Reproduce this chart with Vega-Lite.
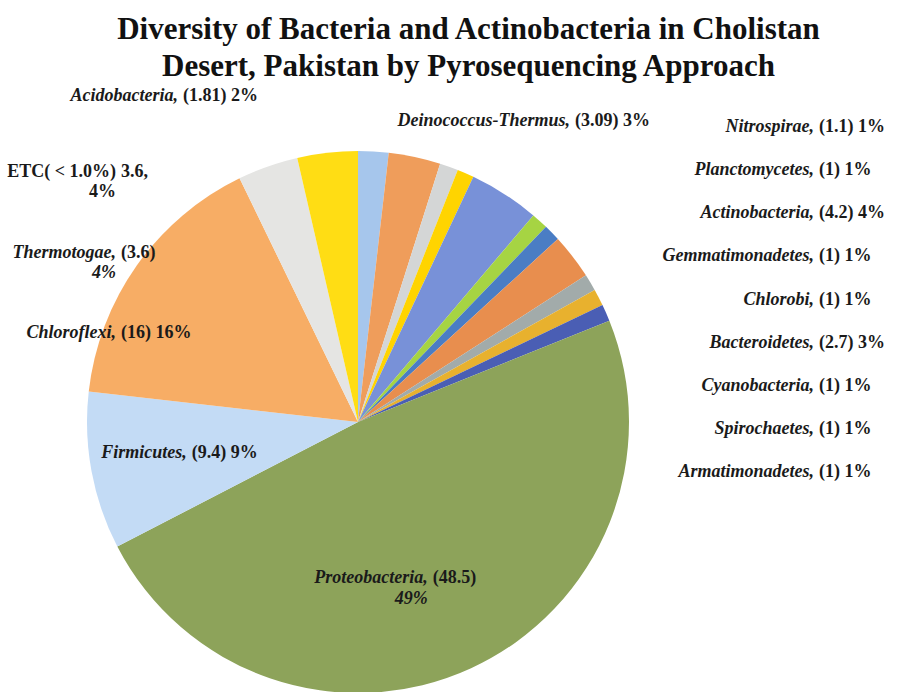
{
  "$schema": "https://vega.github.io/schema/vega-lite/v6.json",
  "width": 913,
  "height": 612,
  "autosize": {"type": "none"},
  "padding": {"left": 0, "top": 80, "right": 0, "bottom": 0},
  "background": "white",
  "config": {"view": {"stroke": null}},
  "title": {
    "text": ["Diversity of Bacteria and Actinobacteria in Cholistan", "Desert, Pakistan by Pyrosequencing Approach"],
    "font": "Liberation Serif",
    "fontSize": 31,
    "fontWeight": "bold",
    "color": "#111111",
    "anchor": "middle",
    "frame": "group",
    "lineHeight": 37,
    "dx": 12,
    "offset": -3
  },
  "data": {
    "values": [
      {"k": 1, "name": "Acidobacteria", "v": 1.81, "a": "Acidobacteria,", "b": "(1.81) 2%"},
      {"k": 2, "name": "Deinococcus-Thermus", "v": 3.09, "a": "Deinococcus-Thermus,", "b": "(3.09) 3%"},
      {"k": 3, "name": "Nitrospirae", "v": 1.1, "a": "Nitrospirae,", "b": "(1.1) 1%"},
      {"k": 4, "name": "Planctomycetes", "v": 1, "a": "Planctomycetes,", "b": "(1) 1%"},
      {"k": 5, "name": "Actinobacteria", "v": 4.2, "a": "Actinobacteria,", "b": "(4.2) 4%"},
      {"k": 6, "name": "Gemmatimonadetes", "v": 1, "a": "Gemmatimonadetes,", "b": "(1) 1%"},
      {"k": 7, "name": "Chlorobi", "v": 1, "a": "Chlorobi,", "b": "(1) 1%"},
      {"k": 8, "name": "Bacteroidetes", "v": 2.7, "a": "Bacteroidetes,", "b": "(2.7) 3%"},
      {"k": 9, "name": "Cyanobacteria", "v": 1, "a": "Cyanobacteria,", "b": "(1) 1%"},
      {"k": 10, "name": "Spirochaetes", "v": 1, "a": "Spirochaetes,", "b": "(1) 1%"},
      {"k": 11, "name": "Armatimonadetes", "v": 1, "a": "Armatimonadetes,", "b": "(1) 1%"},
      {"k": 12, "name": "Proteobacteria", "v": 48.5, "a": "Proteobacteria,\n49%", "b": "(48.5)"},
      {"k": 13, "name": "Firmicutes", "v": 9.4, "a": "Firmicutes,", "b": "(9.4) 9%"},
      {"k": 14, "name": "Chloroflexi", "v": 16, "a": "Chloroflexi,", "b": "(16) 16%"},
      {"k": 15, "name": "Thermotogae", "v": 3.6, "a": "Thermotogae,\n4%", "b": "(3.6)"},
      {"k": 16, "name": "ETC", "v": 3.6, "a": "ETC( < 1.0%)\n4%", "b": "3.6,"}
    ]
  },
  "resolve": {"scale": {"x": "independent", "y": "independent"}},
  "layer": [
    {
      "mark": {"type": "arc", "x": 358, "y": 342, "outerRadius": 271},
      "encoding": {
        "theta": {"field": "v", "type": "quantitative", "stack": true},
        "order": {"field": "k", "type": "quantitative"},
        "color": {
          "field": "name",
          "type": "nominal",
          "legend": null,
          "scale": {
            "domain": ["Acidobacteria", "Deinococcus-Thermus", "Nitrospirae", "Planctomycetes", "Actinobacteria", "Gemmatimonadetes", "Chlorobi", "Bacteroidetes", "Cyanobacteria", "Spirochaetes", "Armatimonadetes", "Proteobacteria", "Firmicutes", "Chloroflexi", "Thermotogae", "ETC"],
            "range": ["#a6c6ec", "#ef9d5b", "#d4d6d6", "#ffd400", "#7891d8", "#a6d443", "#4a7dc4", "#e88e4e", "#a2abaa", "#e8b12e", "#4a5eb4", "#8da35a", "#c3dbf5", "#f7ad65", "#e5e5e3", "#ffdd14"]
          }
        }
      }
    },
    {
      "mark": {"type": "text", "x": 358, "y": 342, "radius": 172, "align": "right", "dx": -2, "font": "Liberation Serif", "fontSize": 18, "fontWeight": "bold", "fontStyle": "italic", "lineHeight": 21, "lineBreak": "\n", "color": "#1a1a1a"},
      "encoding": {
        "theta": {"field": "v", "type": "quantitative", "stack": true},
        "order": {"field": "k", "type": "quantitative"},
        "text": {"condition": {"test": "indexof(['Proteobacteria', 'Firmicutes'], datum.name) >= 0", "field": "a", "type": "nominal"}, "value": ""}
      }
    },
    {
      "mark": {"type": "text", "x": 358, "y": 342, "radius": 172, "align": "left", "dx": 3, "font": "Liberation Serif", "fontSize": 18, "fontWeight": "bold", "lineHeight": 21, "lineBreak": "\n", "color": "#1a1a1a"},
      "encoding": {
        "theta": {"field": "v", "type": "quantitative", "stack": true},
        "order": {"field": "k", "type": "quantitative"},
        "text": {"condition": {"test": "indexof(['Proteobacteria', 'Firmicutes'], datum.name) >= 0", "field": "b", "type": "nominal"}, "value": ""}
      }
    },
    {
      "transform": [{"filter": {"field": "name", "oneOf": ["Nitrospirae", "Planctomycetes", "Actinobacteria", "Gemmatimonadetes", "Chlorobi", "Bacteroidetes", "Cyanobacteria", "Spirochaetes", "Armatimonadetes"]}}],
      "mark": {"type": "text", "x": 816, "align": "right", "dx": -2, "font": "Liberation Serif", "fontSize": 18, "fontWeight": "bold", "fontStyle": "italic", "color": "#1a1a1a"},
      "encoding": {
        "y": {"field": "name", "type": "nominal", "axis": null, "sort": {"field": "k"}, "scale": {"type": "point", "padding": 0, "range": [47, 392]}},
        "text": {"field": "a", "type": "nominal"}
      }
    },
    {
      "transform": [{"filter": {"field": "name", "oneOf": ["Nitrospirae", "Planctomycetes", "Actinobacteria", "Gemmatimonadetes", "Chlorobi", "Bacteroidetes", "Cyanobacteria", "Spirochaetes", "Armatimonadetes"]}}],
      "mark": {"type": "text", "x": 816, "align": "left", "dx": 3, "font": "Liberation Serif", "fontSize": 18, "fontWeight": "bold", "color": "#1a1a1a"},
      "encoding": {
        "y": {"field": "name", "type": "nominal", "axis": null, "sort": {"field": "k"}, "scale": {"type": "point", "padding": 0, "range": [47, 392]}},
        "text": {"field": "b", "type": "nominal"}
      }
    },
    {
      "transform": [{"filter": {"field": "name", "oneOf": ["ETC", "Thermotogae", "Chloroflexi"]}}],
      "mark": {"type": "text", "x": 118, "align": "right", "dx": -2, "font": "Liberation Serif", "fontSize": 18, "fontWeight": "bold", "fontStyle": {"expr": "datum.name === 'ETC' ? 'normal' : 'italic'"}, "lineHeight": 20, "lineBreak": "\n", "color": "#1a1a1a"},
      "encoding": {
        "y": {"field": "name", "type": "nominal", "axis": null, "sort": {"field": "k", "order": "descending"}, "scale": {"type": "point", "padding": 0, "range": [92, 253]}},
        "text": {"field": "a", "type": "nominal"}
      }
    },
    {
      "transform": [{"filter": {"field": "name", "oneOf": ["ETC", "Thermotogae", "Chloroflexi"]}}],
      "mark": {"type": "text", "x": 118, "align": "left", "dx": 3, "font": "Liberation Serif", "fontSize": 18, "fontWeight": "bold", "lineHeight": 20, "lineBreak": "\n", "color": "#1a1a1a"},
      "encoding": {
        "y": {"field": "name", "type": "nominal", "axis": null, "sort": {"field": "k", "order": "descending"}, "scale": {"type": "point", "padding": 0, "range": [92, 253]}},
        "text": {"field": "b", "type": "nominal"}
      }
    },
    {
      "transform": [{"filter": {"field": "name", "oneOf": ["Acidobacteria", "Deinococcus-Thermus"]}}],
      "mark": {"type": "text", "align": "right", "dx": -2, "font": "Liberation Serif", "fontSize": 18, "fontWeight": "bold", "fontStyle": "italic", "color": "#1a1a1a"},
      "encoding": {
        "x": {"field": "name", "type": "nominal", "axis": null, "sort": {"field": "k"}, "scale": {"type": "point", "padding": 0, "range": [180, 572]}},
        "y": {"field": "name", "type": "nominal", "axis": null, "sort": {"field": "k"}, "scale": {"type": "point", "padding": 0, "range": [16, 41]}},
        "text": {"field": "a", "type": "nominal"}
      }
    },
    {
      "transform": [{"filter": {"field": "name", "oneOf": ["Acidobacteria", "Deinococcus-Thermus"]}}],
      "mark": {"type": "text", "align": "left", "dx": 3, "font": "Liberation Serif", "fontSize": 18, "fontWeight": "bold", "color": "#1a1a1a"},
      "encoding": {
        "x": {"field": "name", "type": "nominal", "axis": null, "sort": {"field": "k"}, "scale": {"type": "point", "padding": 0, "range": [180, 572]}},
        "y": {"field": "name", "type": "nominal", "axis": null, "sort": {"field": "k"}, "scale": {"type": "point", "padding": 0, "range": [16, 41]}},
        "text": {"field": "b", "type": "nominal"}
      }
    }
  ]
}
